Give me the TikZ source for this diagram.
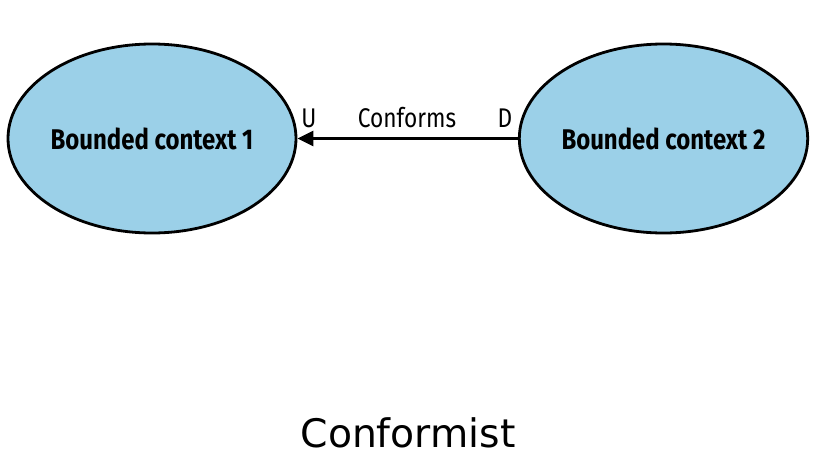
\documentclass[tikz,border=0pt]{standalone}
\usepackage{fontspec}
\setmainfont{Fira Sans}
\newfontfamily\boldcond[FakeStretch=0.84]{Fira Sans}
\newfontfamily\capfont{DejaVu Sans}
\usetikzlibrary{arrows.meta,shapes.geometric}
\definecolor{bcblue}{RGB}{155,208,232}
\begin{document}
\begin{tikzpicture}[x=1pt,y=-1pt,
  ctx/.style={ellipse,draw=black,line width=2.8pt,fill=bcblue,minimum width=288pt,minimum height=189pt,inner sep=0pt,font=\boldcond\bfseries\fontsize{28.5}{32}\selectfont},
  lbl/.style={font=\boldcond\fontsize{27}{30}\selectfont,inner sep=0pt}]
\useasboundingbox (0,0) rectangle (829,474);
\node[ctx] (bc1) at (152,138.5) {Bounded context 1};
\node[ctx] (bc2) at (663.5,138.5) {Bounded context 2};
\draw[line width=2.5pt,-{Triangle[length=16pt,width=15pt]}] (bc2.west) -- (bc1.east);
\node[lbl] (u) at (309,118) {U};
\node[lbl] (conf) at (407,118) {Conforms};
\node[lbl] (d) at (505,118) {D};
\node[font=\capfont\fontsize{39.3}{44}\selectfont,inner sep=0pt] (title) at (408,433) {Conformist};
\end{tikzpicture}
\end{document}
